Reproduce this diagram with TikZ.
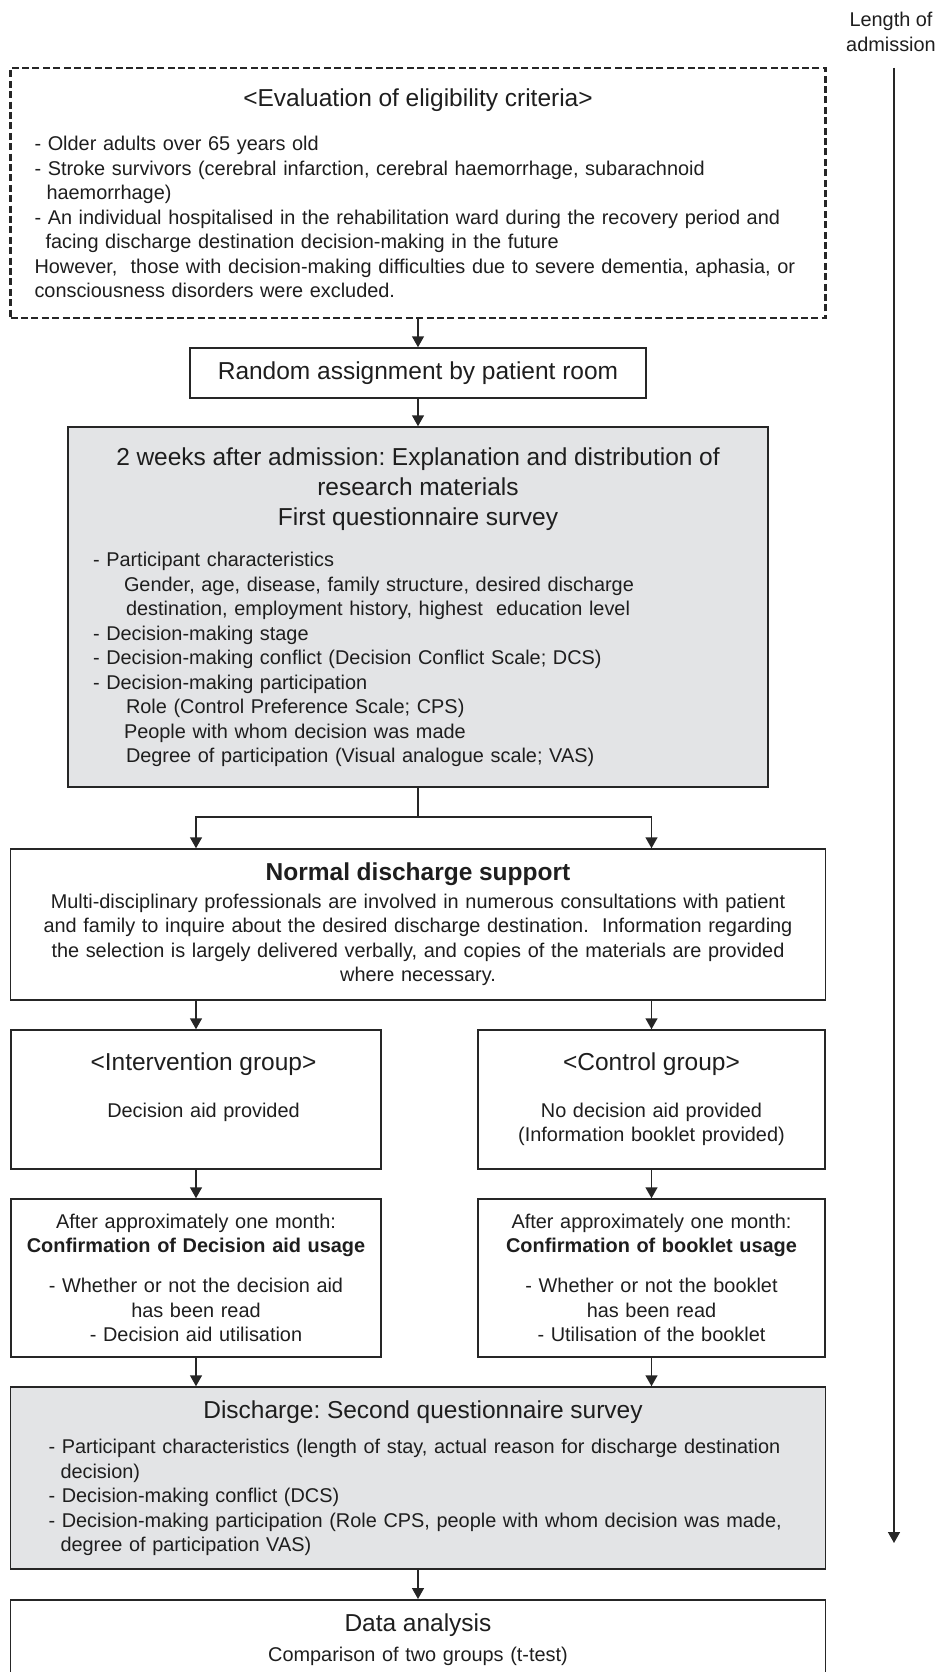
\documentclass[tikz,border=0pt]{standalone}
\usepackage{fontspec}
\setmainfont{Liberation Sans}
\usetikzlibrary{arrows.meta}
\definecolor{linegray}{HTML}{262626}
\definecolor{boxgray}{HTML}{E3E4E6}
\definecolor{textgray}{HTML}{1E1E1E}
\newcommand{\headfont}{\fontsize{24.5pt}{30pt}\selectfont}
\newcommand{\bodyfont}{\fontsize{19.9pt}{24.5pt}\selectfont}
\frenchspacing
\tikzset{
  box/.style={draw=linegray,line width=1.5pt,inner ysep=0pt,font=\bodyfont,text=textgray},
  shaded/.style={box,fill=boxgray},
}
\begin{document}
\begin{tikzpicture}[x=1pt,y=-1pt,>={Triangle[length=11pt,width=12pt]}]
        \useasboundingbox (0,0) rectangle (936,1672);

        % eligibility
        \node[box,dash pattern=on 7pt off 3.4pt,line width=2.4pt,minimum width=815pt,minimum height=250pt,inner xsep=24pt,text width=767pt,align=left] (elig) at (418,193) {%
          {\headfont\centering <Evaluation of eligibility criteria>\par}\vspace{20pt}
          - Older adults over 65 years old\\
          - Stroke survivors (cerebral infarction, cerebral haemorrhage, subarachnoid\\
          \hspace*{12pt}haemorrhage)\\
          - An individual hospitalised in the rehabilitation ward during the recovery period and\\
          \hspace*{11pt}facing discharge destination decision-making in the future\\
          However,~ those with decision-making difficulties due to severe dementia, aphasia, or\\
          consciousness disorders were excluded.};

        \node[box,minimum width=456pt,minimum height=50pt,font=\headfont] (rand) at (418,373) {Random assignment by patient room};

        % first survey
        \node[shaded,minimum width=700pt,minimum height=360pt,inner xsep=25pt,text width=650pt,align=left] (first) at (418,607) {%
          {\headfont\centering 2 weeks after admission: Explanation and distribution of\\
          research materials\\
          First questionnaire survey\par}\vspace{17pt}
          - Participant characteristics\\
          \hspace*{31pt}Gender, age, disease, family structure, desired discharge\\
          \hspace*{33pt}destination, employment history, highest~ education level\\
          - Decision-making stage\\
          - Decision-making conflict (Decision Conflict Scale; DCS)\\
          - Decision-making participation\\
          \hspace*{33pt}Role (Control Preference Scale; CPS)\\
          \hspace*{31pt}People with whom decision was made\\
          \hspace*{33pt}Degree of participation (Visual analogue scale; VAS)};

        \node[box,minimum width=815pt,minimum height=151pt,inner xsep=10pt,text width=795pt,align=center] (normal) at (418,924.5) {%
          {\headfont\bfseries Normal discharge support\par}\vspace{3pt}
          Multi-disciplinary professionals are involved in numerous consultations with patient\\
          and family to inquire about the desired discharge destination.~ Information regarding\\
          the selection is largely delivered verbally, and copies of the materials are provided\\
          where necessary.};

        % groups
        \node[box,minimum width=370pt,minimum height=139pt,inner xsep=5pt,text width=360pt,align=center] (interv) at (196,1099.5) {%
          {\headfont\hspace*{15pt}<Intervention group>\par}\vspace{22pt}
          \hspace*{15pt}Decision aid provided\\
          \vphantom{(}};
        \node[box,minimum width=347pt,minimum height=139pt,inner xsep=5pt,text width=337pt,align=center] (ctrl) at (651.5,1099.5) {%
          {\headfont <Control group>\par}\vspace{22pt}
          No decision aid provided\\
          (Information booklet provided)};

        \node[box,minimum width=370pt,minimum height=158pt,inner xsep=5pt,text width=360pt,align=center] (intervafter) at (196,1278) {%
          After approximately one month:\\
          \textbf{Confirmation of Decision aid usage}\\[15.5pt]
          - Whether or not the decision aid\\
          has been read\\
          - Decision aid utilisation};
        \node[box,minimum width=347pt,minimum height=158pt,inner xsep=5pt,text width=337pt,align=center] (ctrlafter) at (651.5,1278) {%
          After approximately one month:\\
          \textbf{Confirmation of booklet usage}\\[15.5pt]
          - Whether or not the booklet\\
          has been read\\
          - Utilisation of the booklet};

        % second survey
        \node[shaded,minimum width=815pt,minimum height=182pt,inner xsep=38pt,text width=739pt,align=left] (second) at (418,1478) {%
          {\headfont\centering\hspace*{10pt}Discharge: Second questionnaire survey\par}\vspace{11pt}
          - Participant characteristics (length of stay, actual reason for discharge destination\\
          \hspace*{12pt}decision)\\
          - Decision-making conflict (DCS)\\
          - Decision-making participation (Role CPS, people with whom decision was made,\\
          \hspace*{12pt}degree of participation VAS)};

        \node[box,minimum width=815pt,minimum height=80pt,inner xsep=10pt,text width=795pt,align=center,anchor=north] (data) at (418,1599) {%
          {\headfont Data analysis\par}\vspace{5pt}
          Comparison of two groups (t-test)};

        % time line
        \node[font=\bodyfont,text=textgray,align=center,inner sep=0pt] (los) at (891,32) {\fontsize{19.9pt}{22pt}\selectfont Length of\\admission};
        \coordinate (lostop) at (894,68);
        \coordinate (losend) at (894,1543);
        \draw[->,draw=linegray,fill=linegray,line width=1.5pt](lostop)--(losend);

        % connectors
        \begin{scope}[->,draw=linegray,fill=linegray,line width=1.5pt]
          \draw(elig.south)--(rand.north);
          \draw(rand.south)--(first.north);
          \coordinate (split) at (418,817);
          \draw[-](first.south)--(split);
          \draw(split)-|(normal.north -| interv.north);
          \draw(split)-|(normal.north -| ctrl.north);
          \draw(normal.south -| interv.north)--(interv.north);
          \draw(normal.south -| ctrl.north)--(ctrl.north);
          \draw(interv.south)--(intervafter.north);
          \draw(ctrl.south)--(ctrlafter.north);
          \draw(intervafter.south)--(second.north -| intervafter.south);
          \draw(ctrlafter.south)--(second.north -| ctrlafter.south);
          \draw(second.south)--(data.north);
        \end{scope}
    \end{tikzpicture}
\end{document}
